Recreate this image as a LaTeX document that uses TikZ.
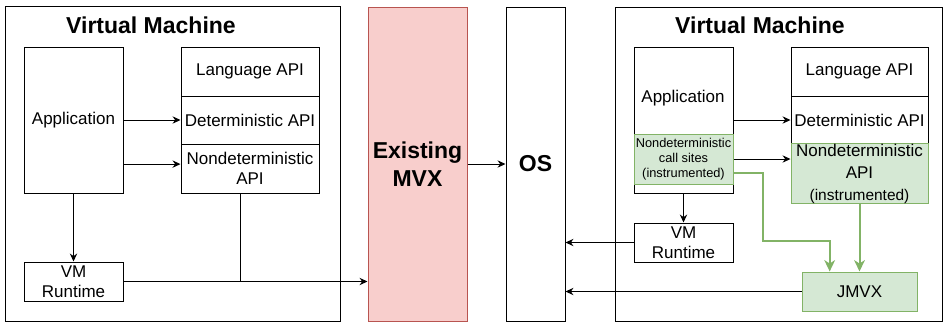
\documentclass[tikz,border=0pt]{standalone}
\usepackage{fontspec}
\setmainfont{Liberation Sans}
\usetikzlibrary{arrows.meta,calc}

\definecolor{gfill}{HTML}{D5E8D4}
\definecolor{gline}{HTML}{82B366}
\definecolor{rfill}{HTML}{F8CECC}
\definecolor{rline}{HTML}{B85450}

\tikzset{
  sz/.style 2 args={minimum width=#1*0.75pt, minimum height=#2*0.75pt},
  box/.style={draw=black, line width=0.75pt, inner sep=0pt, align=center,
    font=\fontsize{12.75}{14.6}\selectfont},
  gbox/.style={box, draw=gline, fill=gfill},
  title/.style={inner sep=0pt, align=center,
    font=\bfseries\fontsize{17.25}{20.25}\selectfont},
  arr/.style={line width=0.75pt, -{Stealth[length=6pt,width=5.5pt,inset=2pt]}},
  plain/.style={line width=0.75pt},
  garr/.style={draw=gline, line width=1.5pt,
    -{Stealth[length=8.5pt,width=8pt,inset=2.5pt]}},
}

\begin{document}
\begin{tikzpicture}[x=0.75pt,y=-0.75pt]
\useasboundingbox (0,0) rectangle (943,322);

% ---------- left virtual machine ----------
\node[box, sz={335}{315}] (vmL) at (172.5,163.5) {};
\node[title] (vmLt) at (151,25) {Virtual Machine};
\node[box, sz={99}{146}] (appL) at (73.5,120) {Application};
\node[box, sz={138}{49}] (langL) at (250,71.5) {Language API};
\node[box, sz={138}{48}] (detL) at (250,120) {Deterministic API};
\node[box, sz={138}{49}] (ndL) at (250,168.5) {Nondeterministic\\API};
\node[box, sz={99}{39}] (rtL) at (73.5,281.5) {VM\\Runtime};

% ---------- middle layers ----------
\node[box, sz={99}{314}, draw=rline, fill=rfill,
  font=\bfseries\fontsize{17.25}{20.5}\selectfont] (mvx) at (417.5,164) {Existing\\MVX};
\node[box, sz={59}{314},
  font=\bfseries\fontsize{17.25}{20.25}\selectfont] (os) at (535.5,164) {OS};

% ---------- right virtual machine ----------
\node[box, sz={327}{314}] (vmR) at (778.5,164) {};
\node[title] (vmRt) at (760,25) {Virtual Machine};
\node[box, sz={99}{146}] (appR) at (683.5,120) {};
\node[inner sep=0pt, font=\fontsize{12.75}{14.6}\selectfont] (appRt) at (683,98) {Application};
\node[gbox, sz={99}{50},
  font=\fontsize{9.6}{11.2}\selectfont] (csR) at (683.5,159) {Nondeterministic\\call sites\\(instrumented)};
\node[box, sz={137}{49}] (langR) at (859.5,71.5) {Language API};
\node[box, sz={137}{48}] (detR) at (859.5,120) {Deterministic API};
\node[gbox, sz={137}{59},
  font=\fontsize{12.75}{16.5}\selectfont] (ndR) at (859.5,173.5)
  {Nondeterministic\\API\\{\fontsize{11.6}{13}\selectfont (instrumented)}};
\node[box, sz={99}{39}] (rtR) at (683.5,242.5) {VM\\Runtime};
\node[gbox, sz={115}{39}] (jmvx) at (859.5,291.5) {JMVX};

% ---------- left connectors ----------
\draw[arr] (appL.east) -- (detL.west);
\coordinate (aL2) at ($(appL.south east)!0.2!(appL.north east)$);
\draw[arr] (aL2) -- (aL2 -| ndL.west);
\draw[arr] (appL.south) -- (rtL.north);
\draw[arr] (rtL.east) -- (rtL.east -| mvx.west);
\coordinate (ndLb) at ($(ndL.south west)!0.435!(ndL.south east)$);
\draw[plain] (ndLb) -- (ndLb |- rtL.east);
\draw[arr] (mvx.east) -- (os.west);

% ---------- right connectors ----------
\draw[arr] (appR.east |- detR.west) -- (detR.west);
\draw[arr] (csR.east) -- (csR.east -| ndR.west);
\draw[arr] (appR.south) -- (rtR.north);
\draw[arr] (rtR.west) -- (rtR.west -| os.east);
\draw[arr] (jmvx.west) -- (jmvx.west -| os.east);
\coordinate (cs2) at ($(csR.south east)!0.22!(csR.north east)$);
\coordinate (jt) at ($(jmvx.north west)!0.243!(jmvx.north east)$);
\draw[garr] (cs2) -- ++(29,0) |- ($(jt)+(0,-31)$) -- (jt);
\draw[garr] (ndR.south) -- (ndR.south |- jmvx.north);
\end{tikzpicture}
\end{document}
